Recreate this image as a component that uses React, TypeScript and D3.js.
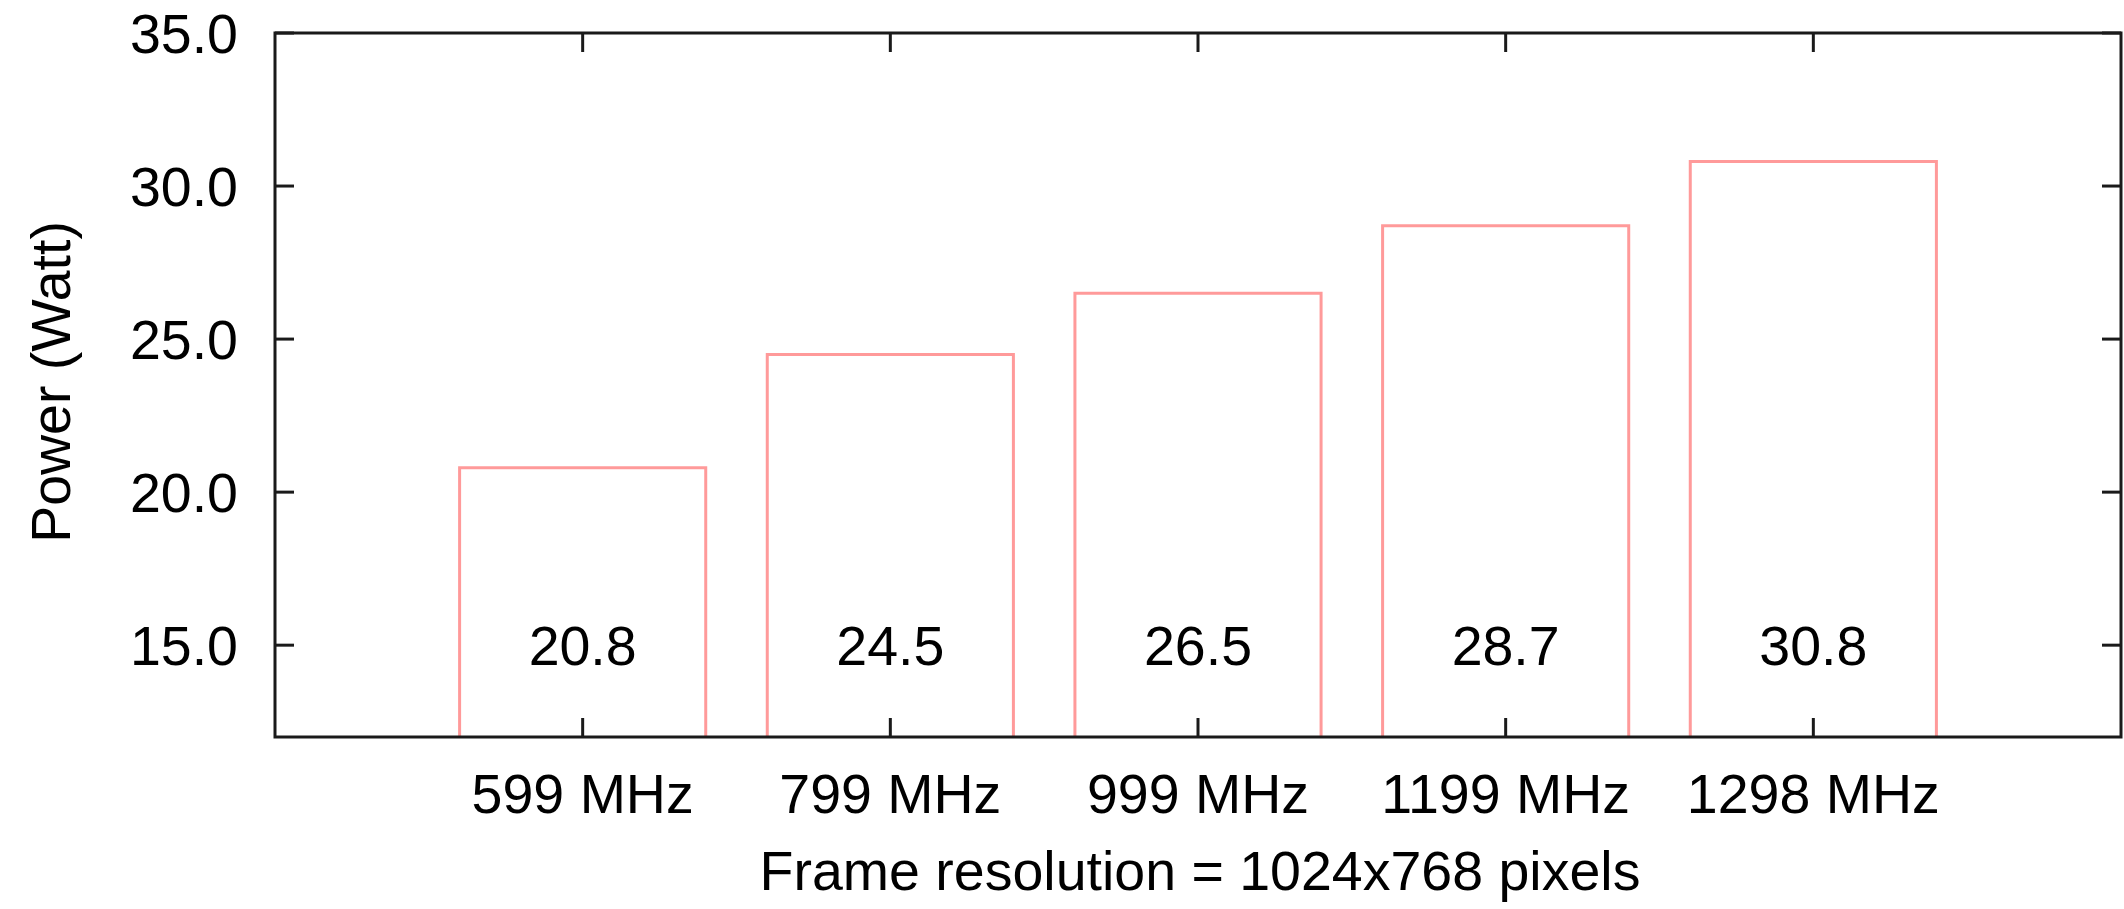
import React from "react";
import * as d3 from "d3";

const categories = ["599 MHz", "799 MHz", "999 MHz", "1199 MHz", "1298 MHz"];
const values = [20.8, 24.5, 26.5, 28.7, 30.8];
const yTicks = [15, 20, 25, 30, 35];
const xTitle = "Frame resolution = 1024x768 pixels";
const yTitle = "Power (Watt)";

const W = 2124;
const H = 909;
const M = { left: 275, right: 2121, top: 33, bottom: 737 };
const FONT = "'Liberation Sans', Arial, Helvetica, sans-serif";
const FS = 55.5;

export default function App() {
  const x = d3.scaleLinear().domain([-1, categories.length]).range([M.left, M.right]);
  const y = d3.scaleLinear().domain([12, 35]).range([M.bottom, M.top]);
  const bw = x(0.8) - x(0);
  const tickLen = 19;
  const axisColor = "#1a1a1a";
  const barColor = "#ff9a9a";
  const fmt = d3.format(".1f");

  return (
    <svg width={W} height={H} style={{ position: "absolute", left: 0, top: 0, background: "#fff" }} fontFamily={FONT}>
      <rect x={0} y={0} width={W} height={H} fill="#fff" />
      {/* bars */}
      {values.map((v, i) => (
        <path
          key={"bar" + i}
          d={`M${x(i) - bw / 2},${y(12)} L${x(i) - bw / 2},${y(v)} L${x(i) + bw / 2},${y(v)} L${x(i) + bw / 2},${y(12)}`}
          fill="none"
          stroke={barColor}
          strokeWidth={3}
        />
      ))}
      {/* value labels */}
      {values.map((v, i) => (
        <text key={"val" + i} x={x(i)} y={y(15)} dy="0.36em" textAnchor="middle" fontSize={FS} fill="#000">
          {fmt(v)}
        </text>
      ))}
      {/* frame */}
      <rect x={M.left} y={M.top} width={M.right - M.left} height={M.bottom - M.top} fill="none" stroke={axisColor} strokeWidth={3} />
      {/* y ticks */}
      {yTicks.map((t) => (
        <g key={"yt" + t}>
          <line x1={M.left} x2={M.left + tickLen} y1={y(t)} y2={y(t)} stroke={axisColor} strokeWidth={3} />
          <line x1={M.right} x2={M.right - tickLen} y1={y(t)} y2={y(t)} stroke={axisColor} strokeWidth={3} />
          <text x={238} y={y(t)} dy="0.36em" textAnchor="end" fontSize={FS} fill="#000">
            {fmt(t)}
          </text>
        </g>
      ))}
      {/* x ticks */}
      {categories.map((c, i) => (
        <g key={"xt" + i}>
          <line x1={x(i)} x2={x(i)} y1={M.bottom} y2={M.bottom - tickLen} stroke={axisColor} strokeWidth={3} />
          <line x1={x(i)} x2={x(i)} y1={M.top} y2={M.top + tickLen} stroke={axisColor} strokeWidth={3} />
          <text x={x(i)} y={813} textAnchor="middle" fontSize={FS} fill="#000">
            {c}
          </text>
        </g>
      ))}
      {/* axis titles */}
      <text x={(M.left + M.right) / 2 + 2} y={890} textAnchor="middle" fontSize={FS} fill="#000">
        {xTitle}
      </text>
      <text
        transform={`translate(70,${(M.top + M.bottom) / 2 - 3}) rotate(-90)`}
        textAnchor="middle"
        fontSize={FS}
        fill="#000"
      >
        {yTitle}
      </text>
    </svg>
  );
}
